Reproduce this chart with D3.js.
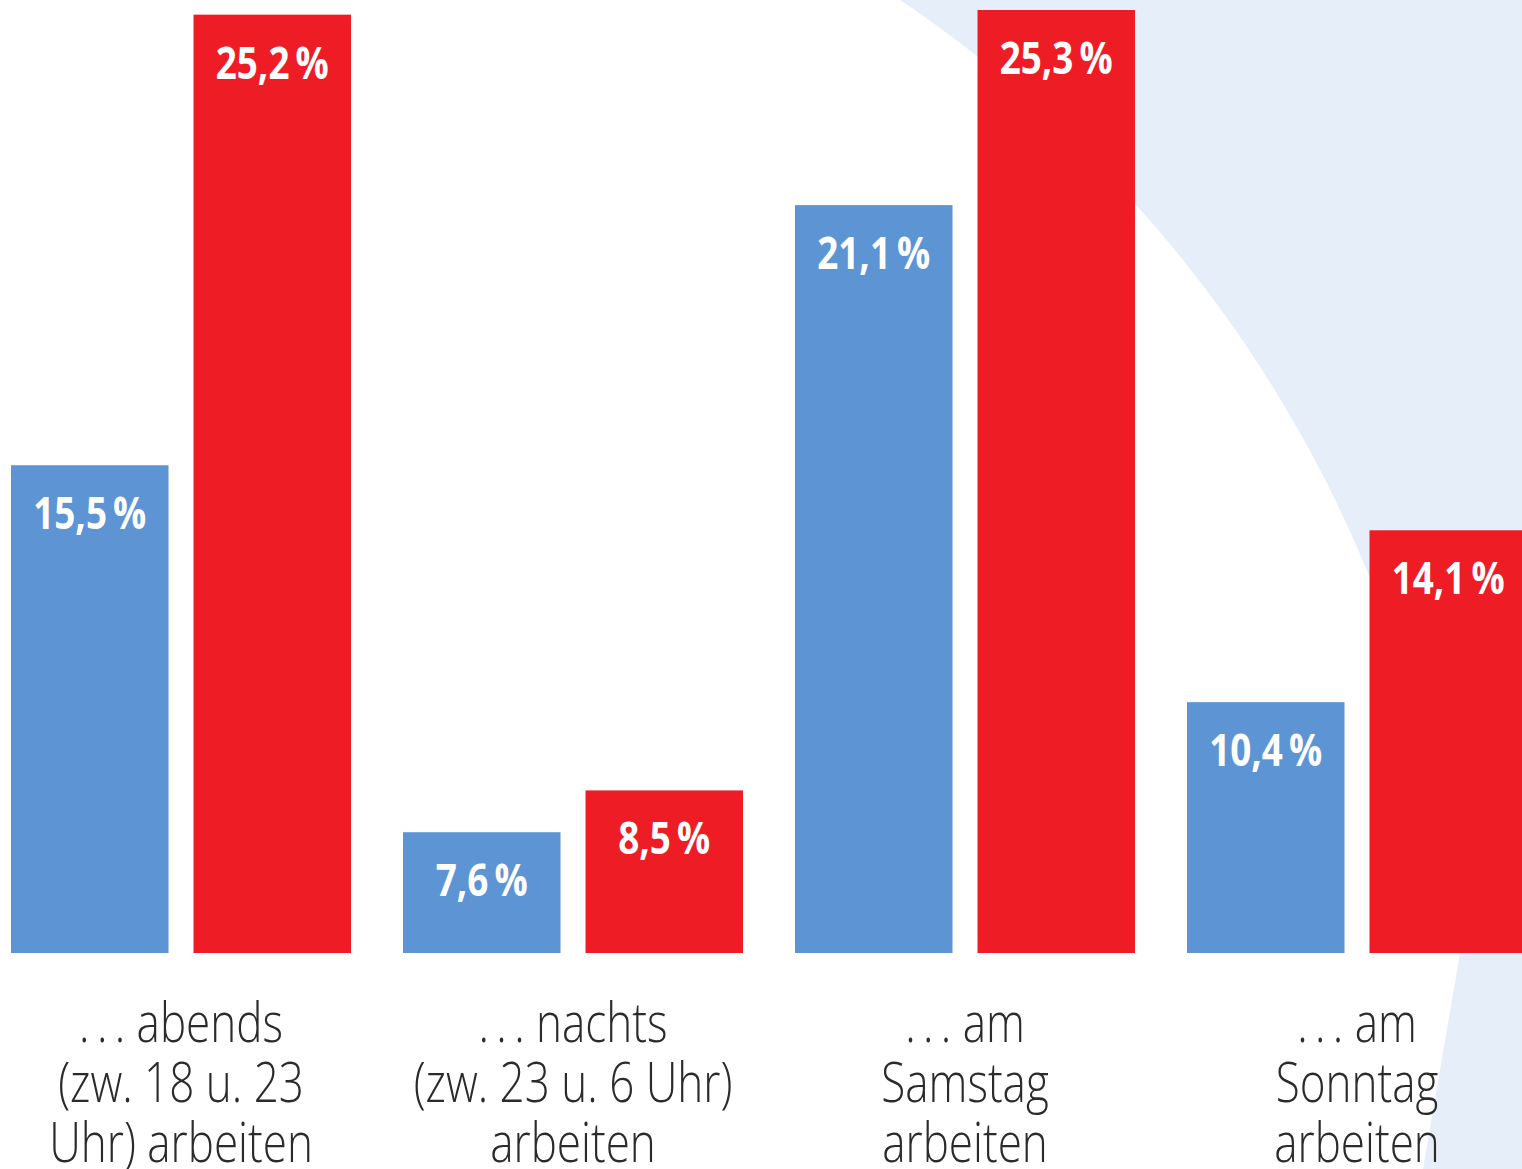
<!DOCTYPE html>
<html>
<head>
<meta charset="utf-8">
<script src="https://cdn.jsdelivr.net/npm/d3@7"></script>
<style>
  body { margin: 0; background: #fff; overflow: hidden; }
  .cat { font-family: "Open Sans", "Noto Sans", sans-serif; font-weight: 300; fill: #2b2b2b; }
  .val { font-family: "Open Sans", "Noto Sans", sans-serif; font-weight: 700; fill: #fff; }
</style>
</head>
<body>
<div id="chart"></div>
<script>
// data
var categories = ["abends", "nachts", "samstag", "sonntag"];
var labelLines = [
  [".\u2009.\u2009. abends", "(zw. 18 u. 23", "Uhr) arbeiten"],
  [".\u2009.\u2009. nachts", "(zw. 23 u. 6 Uhr)", "arbeiten"],
  [".\u2009.\u2009. am", "Samstag", "arbeiten"],
  [".\u2009.\u2009. am", "Sonntag", "arbeiten"]
];
var series = ["blau", "rot"];
var blueValues = [15.5, 7.6, 21.1, 10.4];
var redValues = [25.2, 8.5, 25.3, 14.1];

var colors = { blau: "#5d94d4", rot: "#ee1d25" };

var width = 1522, height = 1169;
var baseY = 953;

var svg = d3.select("#chart").append("svg")
    .attr("width", width)
    .attr("height", height);

// light blue background outside a large white circle
var cx = 187, cy = 1060, r = 1277.5;
var a0 = Math.atan2(-80 - cy, Math.sqrt(r * r - (cy + 80) * (cy + 80))),
    a1 = Math.atan2(baseY - cy, Math.sqrt(r * r - (baseY - cy) * (baseY - cy)));
var arcPts = d3.range(0, 1.0001, 0.01).map(function(t) {
  var a = a0 + (a1 - a0) * t;
  return [cx + r * Math.cos(a), cy + r * Math.sin(a)];
});
arcPts.push([1423, 1169], [1412, 1240]);
svg.append("path")
    .attr("d", d3.line()(arcPts) + "L1600,1240L1600,-80Z")
    .attr("fill", "#e6eef9");

var x0 = d3.scaleBand()
    .domain(categories)
    .range([-41, 1579])
    .padding(0.1327);

var x1 = d3.scaleBand()
    .domain(series)
    .range([0, x0.bandwidth()])
    .paddingInner(0.137);

var y = d3.scaleLinear()
    .domain([5, 25.3])
    .range([baseY, 10]);

var rows = categories.map(function(c, i) {
  return { cat: c, values: [
    { key: "blau", value: blueValues[i] },
    { key: "rot", value: redValues[i] }
  ]};
});

var fmt = function(v) { return d3.format(".1f")(v).replace(".", ",") + "\u2009%"; };

var groups = svg.selectAll(".grp")
  .data(rows)
  .enter().append("g")
    .attr("class", "grp")
    .attr("transform", function(d) { return "translate(" + x0(d.cat) + ",0)"; });

groups.selectAll("rect")
  .data(function(d) { return d.values; })
  .enter().append("rect")
    .attr("x", function(d) { return x1(d.key); })
    .attr("y", function(d) { return y(d.value); })
    .attr("width", x1.bandwidth())
    .attr("height", function(d) { return baseY - y(d.value); })
    .attr("fill", function(d) { return colors[d.key]; });

groups.selectAll(".val")
  .data(function(d) { return d.values; })
  .enter().append("text")
    .attr("class", "val")
    .attr("transform", function(d) {
      return "translate(" + (x1(d.key) + x1.bandwidth() / 2) + "," + (y(d.value) + 64) + ") scale(0.82,1)";
    })
    .attr("text-anchor", "middle")
    .style("font-size", "45px")
    .text(function(d) { return fmt(d.value); });

// category labels, three lines each
var lineY = [1042, 1102, 1162];
groups.each(function(d, i) {
  var g = d3.select(this);
  labelLines[i].forEach(function(t, j) {
    g.append("text")
      .attr("class", "cat")
      .attr("transform", "translate(" + (x0.bandwidth() / 2) + "," + lineY[j] + ") scale(0.8,1)")
      .attr("text-anchor", "middle")
      .style("font-size", "55px")
      .text(t);
  });
});
</script>
</body>
</html>
